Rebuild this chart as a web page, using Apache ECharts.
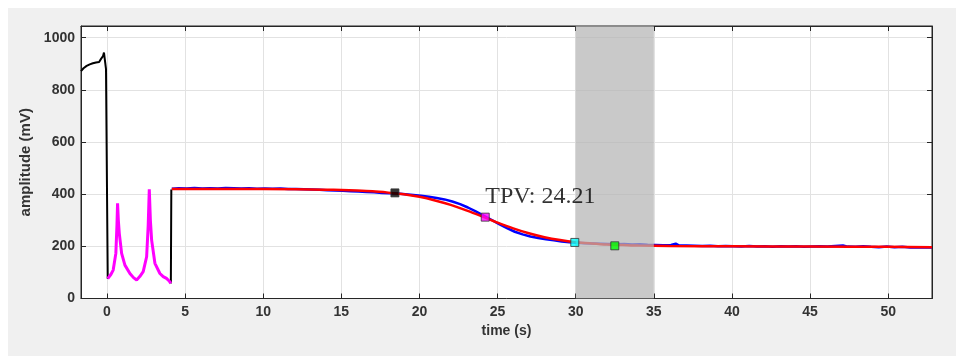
<!DOCTYPE html>
<html>
<head>
<meta charset="utf-8">
<script src="https://cdn.jsdelivr.net/npm/echarts@6/dist/echarts.min.js"></script>
<style>
  html, body { margin: 0; padding: 0; background: #fff; }
  #chart { width: 956px; height: 356px; }
</style>
</head>
<body>
<div id="chart"></div>
<script>
// 时间轴范围 (s) 和幅值范围 (mV)
const xRange = [-1.66, 52.8];
const yRange = [0, 1045];
const xTicks = [0, 5, 10, 15, 20, 25, 30, 35, 40, 45, 50];
const yTicks = [0, 200, 400, 600, 800, 1000];

// 黑色: 基线段 + 4.1s 处的跳变
const blackTrace = [
  [-1.66, 872], [-1.5, 883], [-1.3, 892], [-1.1, 898], [-0.9, 902], [-0.7, 905],
  [-0.5, 907], [-0.42, 915], [-0.36, 921], [-0.31, 911], [-0.25, 930], [-0.19, 943],
  [-0.12, 938], [-0.06, 880], [0.05, 76],
  [null, null],
  [4.09, 58], [4.12, 418], [4.15, 420]
];

// 品红: 两个尖峰
const magentaTrace = [
  [0.05, 76], [0.08, 77], [0.25, 92], [0.4, 109], [0.57, 173], [0.64, 280], [0.68, 365],
  [0.73, 300], [0.79, 250], [0.94, 173], [1.15, 128], [1.47, 96], [1.7, 80], [1.9, 71],
  [2.1, 84], [2.32, 103], [2.54, 160], [2.64, 280], [2.71, 419], [2.78, 300],
  [2.86, 224], [3.07, 135], [3.39, 96], [3.6, 84], [3.81, 77], [4.0, 66], [4.09, 58]
];

// 蓝色: 测量曲线
const blueTrace = [
  [4.15, 421], [4.6, 423], [5.1, 422], [5.6, 424], [6.1, 422], [6.6, 423], [7.1, 422],
  [7.6, 424], [8.1, 423], [8.6, 422], [9.1, 423], [9.6, 421], [10.1, 422], [10.6, 421],
  [11.1, 422], [11.6, 420], [12.1, 420], [12.6, 419], [13.1, 418], [13.6, 417],
  [14.1, 415], [14.6, 414], [15.1, 413], [15.6, 411], [16.1, 410], [16.6, 408],
  [17.1, 407], [17.6, 405], [18.1, 404], [18.6, 403], [19.1, 400], [19.6, 397],
  [20.1, 394], [20.6, 390], [21.1, 385], [21.6, 380], [22.1, 372], [22.6, 362],
  [23.1, 349], [23.6, 334], [24.1, 318], [24.6, 302], [25.1, 285], [25.6, 270],
  [26.1, 256], [26.6, 246], [27.1, 238], [27.6, 232], [28.1, 227], [28.6, 223],
  [29.1, 219], [29.6, 216], [30.1, 214], [30.6, 212], [31.1, 211], [31.6, 210],
  [32.1, 209], [32.6, 208], [33.1, 209], [33.6, 207], [34.1, 208], [34.6, 206],
  [35.1, 205], [35.6, 204], [36.1, 205], [36.4, 210], [36.6, 204], [37.1, 203],
  [37.6, 202], [38.1, 201], [38.6, 202], [39.1, 200], [39.6, 201], [40.1, 200],
  [40.6, 199], [41.1, 201], [41.6, 199], [42.1, 200], [42.6, 198], [43.1, 200],
  [43.6, 199], [44.1, 200], [44.6, 198], [45.1, 199], [45.6, 200], [46.1, 199],
  [46.6, 201], [47.1, 203], [47.4, 199], [47.9, 198], [48.4, 200], [48.9, 198],
  [49.4, 197], [49.9, 199], [50.4, 197], [50.9, 198], [51.4, 196], [51.9, 197],
  [52.4, 196], [52.8, 196]
];

// 红色: 拟合曲线
const redTrace = [
  [4.15, 420], [8, 420], [12, 419], [14, 417.5], [15, 416], [16, 414], [17, 411],
  [18, 406], [19, 400], [20, 390], [21, 376], [22, 359], [23, 338], [24, 315],
  [25, 291], [26, 269], [27, 250], [28, 235], [29, 224], [30, 216], [31, 211],
  [32, 207], [33, 205], [34, 203], [36, 201], [40, 200], [45, 199], [50, 198], [52.8, 197]
];

// 标记点
const markerPoints = [
  { value: [18.43, 405], color: '#000000' },
  { value: [24.21, 312], color: '#ff00ff' },
  { value: [29.94, 215], color: '#00ffff' },
  { value: [32.5, 202], color: '#00ff00' }
];
const tpvText = 'TPV: 24.21';
const tpvPos = [24.21, 392];
const shadeRange = [30, 35];

const chart = echarts.init(document.getElementById('chart'), null, { renderer: 'canvas' });

const axisColor = '#262626';
const labelFont = { fontFamily: 'Liberation Sans', fontWeight: 'bold', fontSize: 14, color: '#333' };

function onTick(list) {
  return v => (list.some(t => Math.abs(t - v) < 1e-6) ? String(v) : '');
}

function boxAxisLine() {
  return { show: true, onZero: false, lineStyle: { color: axisColor } };
}

const option = {
  backgroundColor: '#ffffff',
  animation: false,
  graphic: [{
    type: 'rect',
    z: -10,
    shape: { x: 8, y: 8, width: 948, height: 348 },
    style: { fill: '#f0f0f0' }
  }],
  grid: {
    left: 81, right: 24, top: 26, bottom: 57.5,
    show: true, backgroundColor: '#ffffff', borderColor: axisColor, borderWidth: 1
  },
  xAxis: [{
    type: 'value', min: xRange[0], max: xRange[1], minInterval: 5, maxInterval: 5,
    name: 'time (s)', nameLocation: 'middle', nameGap: 25,
    nameTextStyle: labelFont,
    axisLine: boxAxisLine(),
    axisTick: { show: true, inside: true, length: 5, lineStyle: { color: axisColor } },
    axisLabel: Object.assign({ margin: 7, showMinLabel: false, showMaxLabel: false, formatter: onTick(xTicks) }, labelFont),
    splitLine: { show: true, lineStyle: { color: '#e2e2e2' } }
  }, {
    type: 'value', position: 'top', min: xRange[0], max: xRange[1], minInterval: 5, maxInterval: 5,
    axisLine: boxAxisLine(),
    axisTick: { show: true, inside: true, length: 5, lineStyle: { color: axisColor } },
    axisLabel: { show: false },
    splitLine: { show: false }
  }],
  yAxis: [{
    type: 'value', min: yRange[0], max: yRange[1], interval: 200,
    name: 'amplitude (mV)', nameLocation: 'middle', nameGap: 40,
    nameTextStyle: Object.assign({}, labelFont, { fontSize: 15 }),
    axisLine: boxAxisLine(),
    axisTick: { show: true, inside: true, length: 5, lineStyle: { color: axisColor } },
    axisLabel: Object.assign({ margin: 6, formatter: onTick(yTicks) }, labelFont),
    splitLine: { show: true, lineStyle: { color: '#e2e2e2' } }
  }, {
    type: 'value', position: 'right', min: yRange[0], max: yRange[1], interval: 200,
    axisLine: boxAxisLine(),
    axisTick: { show: true, inside: true, length: 5, lineStyle: { color: axisColor } },
    axisLabel: { show: false },
    splitLine: { show: false }
  }],
  series: [
    {
      name: 'baseline', type: 'line', z: 2, data: blackTrace, showSymbol: false,
      connectNulls: false, lineStyle: { color: '#000000', width: 2 }
    },
    {
      name: 'peaks', type: 'line', z: 2, data: magentaTrace, showSymbol: false,
      lineStyle: { color: '#ff00ff', width: 3 }
    },
    {
      name: 'measured', type: 'line', z: 2, data: blueTrace, showSymbol: false,
      lineStyle: { color: '#0000ff', width: 2.5 }
    },
    {
      name: 'fit', type: 'line', z: 3, data: redTrace, showSymbol: false, smooth: 0.3,
      lineStyle: { color: '#ff0000', width: 2.5 }
    },
    {
      name: 'shade', type: 'line', z: 4, data: [], showSymbol: false,
      markArea: {
        silent: true,
        z: 5,
        itemStyle: { color: 'rgba(180,180,180,0.72)' },
        data: [[{ xAxis: shadeRange[0] }, { xAxis: shadeRange[1] }]]
      }
    },
    {
      name: 'markers', type: 'scatter', z: 6, symbol: 'rect', symbolSize: 8,
      data: markerPoints.map(p => ({
        value: p.value,
        itemStyle: { color: p.color, borderColor: '#333', borderWidth: 1 }
      }))
    },
    {
      name: 'tpv', type: 'scatter', z: 7, symbolSize: 0, data: [tpvPos],
      label: {
        show: true, position: 'right', distance: 0, formatter: tpvText,
        fontFamily: 'Liberation Serif', fontSize: 24, color: '#000'
      }
    }
  ]
};

chart.setOption(option);
</script>
</body>
</html>
